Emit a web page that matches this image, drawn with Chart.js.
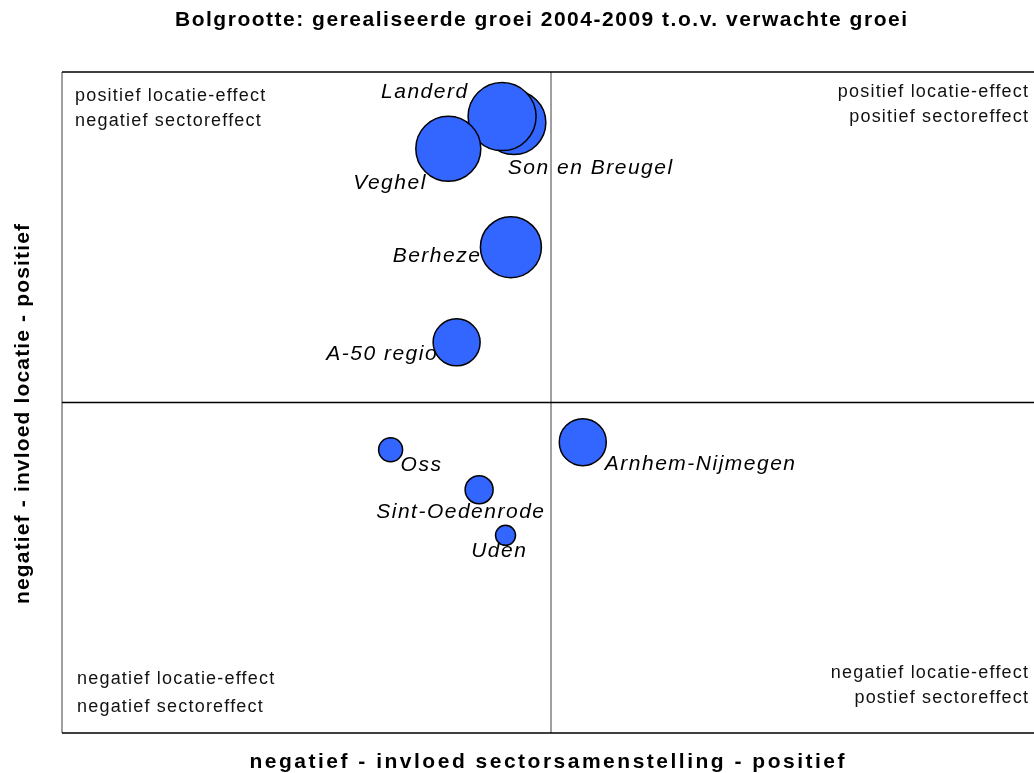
<!DOCTYPE html>
<html>
<head>
<meta charset="utf-8">
<script src="https://cdn.jsdelivr.net/npm/chart.js@4/dist/chart.umd.min.js"></script>
<style>
  html, body { margin: 0; padding: 0; background: #fff; overflow: hidden; }
  #wrap { width: 1034px; height: 773px; overflow: hidden; }
  canvas { display: block; }
</style>
</head>
<body>
<div id="wrap"><canvas id="c" width="1050" height="773" style="width:1050px;height:773px"></canvas></div>
<script>
// Gemeenten / regio's (Son en Breugel vóór Landerd zodat Landerd erboven ligt)
const NAMES = ["Son en Breugel", "Landerd", "Veghel", "Berheze", "A-50 regio", "Oss", "Sint-Oedenrode", "Uden", "Arnhem-Nijmegen"]
// invloed sectorsamenstelling (x)
const SECTOR = [-0.76, -1.0, -2.1, -0.82, -1.93, -3.28, -1.47, -0.93, 0.65]
// invloed locatie (y)
const LOCATIE = [8.47, 8.65, 7.68, 4.7, 1.82, -1.43, -2.64, -4.02, -1.2]
// bolgrootte (gerealiseerde groei t.o.v. verwachte groei)
const BOL = [32, 34, 32.5, 30.5, 23.5, 12, 14, 10, 23.5]

const X_MIN = -10
const X_MAX = 10
const Y_MIN = -10
const Y_MAX = 10

// plaats van de labels t.o.v. het midden van de bol: [dx, dy, uitlijning]
const LABEL_POS = [
  [-6, 46, "left"],
  [-35, -24, "right"],
  [-23, 34, "right"],
  [-31, 9, "right"],
  [-20, 12, "right"],
  [10, 15, "left"],
  [-19, 22, "center"],
  [-7, 16, "center"],
  [22, 22, "left"],
]

const QUADRANTS = [
  { lines: ["positief locatie-effect", "negatief sectoreffect"], x: 75, y: [96, 121], align: "left" },
  { lines: ["positief locatie-effect", "positief sectoreffect"], x: 1028, y: [92, 117], align: "right" },
  { lines: ["negatief locatie-effect", "negatief sectoreffect"], x: 77, y: [679, 707], align: "left" },
  { lines: ["negatief locatie-effect", "postief sectoreffect"], x: 1028, y: [673, 698], align: "right" },
]

const BLUE = "#3366ff"
const GRAY = "#808080"
const INK = "#000"

function spaced(ctx, text, x, y, spacing, align) {
  ctx.letterSpacing = "0px"
  const w = ctx.measureText(text).width + spacing * (text.length - 1)
  const x0 = align === "right" ? x - w : align === "center" ? x - w / 2 : x
  ctx.letterSpacing = spacing + "px"
  ctx.textAlign = "left"
  ctx.fillText(text, x0, y)
  ctx.letterSpacing = "0px"
}

function fit(ctx, text, cx, y, width) {
  ctx.letterSpacing = "0px"
  const nat = ctx.measureText(text).width
  spaced(ctx, text, cx, y, (width - nat) / (text.length - 1), "center")
}

const frame = {
  id: "frame",
  beforeDatasetsDraw(chart) {
    const { ctx, chartArea: a, scales } = chart
    const x0 = scales.x.getPixelForValue(0)
    const y0 = scales.y.getPixelForValue(0)
    ctx.save()
    ctx.lineWidth = 1.5
    ctx.strokeStyle = GRAY
    ctx.beginPath()
    ctx.moveTo(a.left, a.top); ctx.lineTo(a.left, a.bottom)
    ctx.moveTo(x0, a.top); ctx.lineTo(x0, a.bottom)
    ctx.stroke()
    ctx.strokeStyle = INK
    ctx.beginPath()
    ctx.moveTo(a.left, a.top); ctx.lineTo(a.right, a.top)
    ctx.moveTo(a.left, a.bottom); ctx.lineTo(a.right, a.bottom)
    ctx.moveTo(a.left, y0); ctx.lineTo(a.right, y0)
    ctx.stroke()

    ctx.fillStyle = "#111"
    ctx.textBaseline = "middle"
    ctx.font = "18px 'Liberation Sans', Arial, sans-serif"
    QUADRANTS.forEach((q) => q.lines.forEach((t, i) => spaced(ctx, t, q.x, q.y[i], 1.2, q.align)))

    ctx.fillStyle = INK
    ctx.font = "bold 21px 'Liberation Sans', Arial, sans-serif"
    fit(ctx, "Bolgrootte: gerealiseerde groei 2004-2009 t.o.v. verwachte groei", 541, 20, 732)
    fit(ctx, "negatief - invloed sectorsamenstelling - positief", 547, 762, 595)
    ctx.translate(23, 414)
    ctx.rotate(-Math.PI / 2)
    fit(ctx, "negatief - invloed locatie - positief", 0, 0, 380)
    ctx.restore()
  },
  afterDatasetsDraw(chart) {
    const { ctx } = chart
    const meta = chart.getDatasetMeta(0)
    ctx.save()
    ctx.fillStyle = INK
    ctx.textBaseline = "middle"
    ctx.font = "italic 21px 'Liberation Sans', Arial, sans-serif"
    meta.data.forEach((pt, i) => {
      const [dx, dy, al] = LABEL_POS[i]
      spaced(ctx, NAMES[i], pt.x + dx, pt.y + dy, 1.5, al)
    })
    ctx.restore()
  },
}

new Chart(document.getElementById("c"), {
  type: "bubble",
  data: {
    datasets: [
      {
        data: NAMES.map((n, i) => ({ x: SECTOR[i], y: LOCATIE[i], r: BOL[i] })),
        backgroundColor: BLUE,
        borderColor: INK,
        borderWidth: 1.5,
      },
    ],
  },
  options: {
    responsive: false,
    animation: false,
    layout: { autoPadding: false, padding: { left: 62, top: 72, right: 10, bottom: 40 } },
    plugins: { legend: { display: false }, tooltip: { enabled: false } },
    scales: {
      x: { display: false, min: X_MIN, max: X_MAX },
      y: { display: false, min: Y_MIN, max: Y_MAX },
    },
  },
  plugins: [frame],
})
</script>
</body>
</html>
